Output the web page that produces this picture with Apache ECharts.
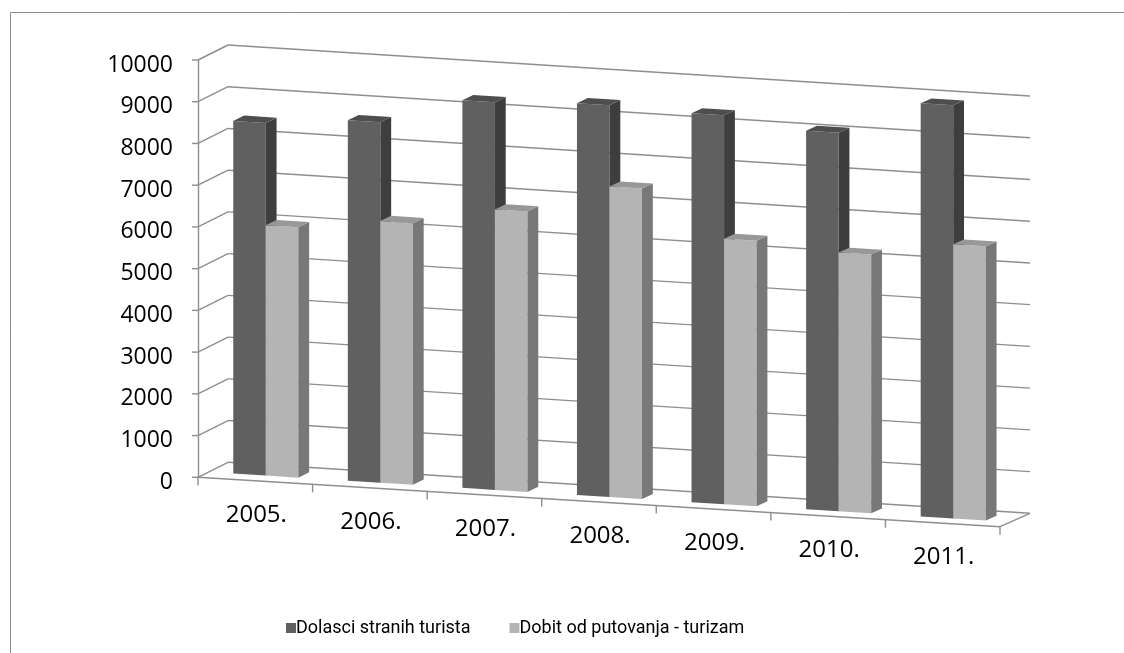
<!DOCTYPE html>
<html>
<head>
<meta charset="utf-8">
<title>Dolasci stranih turista i dobit od turizma</title>
<script src="https://cdn.jsdelivr.net/npm/echarts@6/dist/echarts.min.js"></script>
<style>
  html, body { margin: 0; padding: 0; background: #ffffff; }
  #chart { width: 1124px; height: 653px; }
</style>
</head>
<body>
<div id="chart"></div>
<script>
// ---- data ----
const years = ['2005.', '2006.', '2007.', '2008.', '2009.', '2010.', '2011.'];
const arrivals = [8450, 8640, 9290, 9390, 9320, 9070, 9900];
const income = [6000, 6270, 6720, 7440, 6360, 6200, 6570];
const yTicks = [0, 1000, 2000, 3000, 4000, 5000, 6000, 7000, 8000, 9000, 10000];

const seriesNames = ['Dolasci stranih turista', 'Dobit od putovanja - turizam'];

// ---- styling ----
const FONT = '"Open Sans", "Noto Sans", sans-serif';
const LEGEND_FONT = 'Roboto, "Open Sans", sans-serif';
const GRID_COLOR = '#8e8e8e';
const DARK = { front: '#606060', side: '#3e3e3e', top: '#4e4e4e' };
const LIGHT = { front: '#b4b4b4', side: '#787878', top: '#989898' };

// oblique 3D projection of the flat cartesian grid
const DEPTH_X = 30;          // horizontal shift of the back wall
const DEPTH_Y = 15;          // vertical shift of the back wall
const FRONT_SLOPE = 0.0616;  // downward slant of the floor front edge
const BACK_SLOPE = 0.0636;   // downward slant of the back wall
const BAR_DEPTH_START = 0.35;
const BAR_DEPTH = 0.36;
const BAR_FRACTION = 0.284;  // bar width as a share of the category band

function project(x0, xf, yf, d) {
  const s = FRONT_SLOPE + (BACK_SLOPE - FRONT_SLOPE) * d;
  return [xf + DEPTH_X * d, yf + s * (xf - x0) - DEPTH_Y * d];
}

function frame(api) {
  const band = api.size([1, 0])[0];
  const x0 = api.coord([0, 0])[0] - band / 2;
  return { band: band, x0: x0, xEnd: x0 + band * years.length };
}

function line(p1, p2, width) {
  return {
    type: 'line',
    shape: { x1: p1[0], y1: p1[1], x2: p2[0], y2: p2[1] },
    style: { stroke: GRID_COLOR, lineWidth: width || 1.4 }
  };
}

function poly(points, fill) {
  return { type: 'polygon', shape: { points: points }, style: { fill: fill, stroke: null } };
}

function label(text, x, y, size, align) {
  return {
    type: 'text',
    x: x,
    y: y,
    style: {
      text: text,
      fill: '#000000',
      font: size + 'px ' + FONT,
      align: align,
      verticalAlign: 'middle'
    }
  };
}

// walls, floor and value labels: one entry per value tick
function renderGrid(params, api) {
  const f = frame(api);
  const v = api.value(1);
  const y = api.coord([0, v])[1];
  const P = (x, yy, d) => project(f.x0, x, yy, d);
  const children = [
    line(P(f.x0, y, 0), P(f.x0, y, 1)),
    line(P(f.x0, y, 1), P(f.xEnd, y, 1)),
    line([f.x0 - 6, y], [f.x0, y]),
    label(String(v), f.x0 - 25, y + 5, 23, 'right')
  ];
  if (v === 0) {
    children.push(line(P(f.x0, y, 0), P(f.xEnd, y, 0)));
    children.push(line(P(f.xEnd, y, 0), P(f.xEnd, y, 1)));
  }
  return { type: 'group', children: children };
}

// category ticks along the floor front edge and the year labels
function renderCategories(params, api) {
  const f = frame(api);
  const idx = api.value(0);
  const base = api.coord([idx, 0]);
  const P = (x, yy, d) => project(f.x0, x, yy, d);
  const left = base[0] - f.band / 2;
  const children = [];
  const tickAt = (x) => {
    const p = P(x, base[1], 0);
    children.push(line(p, [p[0], p[1] + 8]));
  };
  tickAt(left);
  if (idx === years.length - 1) tickAt(left + f.band);
  const c = P(base[0], base[1], 0);
  children.push(label(years[idx], c[0] + 1, c[1] + 34, 24, 'center'));
  return { type: 'group', children: children };
}

function barRenderer(slot, colors) {
  return function (params, api) {
    const f = frame(api);
    const idx = api.value(0);
    const v = api.value(1);
    const base = api.coord([idx, 0]);
    const yTop = api.coord([idx, v])[1];
    const bw = f.band * BAR_FRACTION;
    const xl = base[0] - bw + slot * bw;
    const xr = xl + bw;
    const d0 = BAR_DEPTH_START;
    const d1 = d0 + BAR_DEPTH;
    const P = (x, yy, d) => project(f.x0, x, yy, d);
    return {
      type: 'group',
      children: [
        poly([P(xl, base[1], d0), P(xr, base[1], d0), P(xr, yTop, d0), P(xl, yTop, d0)], colors.front),
        poly([P(xr, base[1], d0), P(xr, base[1], d1), P(xr, yTop, d1), P(xr, yTop, d0)], colors.side),
        poly([P(xl, yTop, d0), P(xr, yTop, d0), P(xr, yTop, d1), P(xl, yTop, d1)], colors.top)
      ]
    };
  };
}

const chart = echarts.init(document.getElementById('chart'), null, { renderer: 'canvas' });

chart.setOption({
  backgroundColor: '#ffffff',
  animation: false,
  graphic: [{
    type: 'rect',
    shape: { x: 10.5, y: 12.5, width: 1200, height: 700 },
    style: { fill: null, stroke: '#8e8e8e', lineWidth: 1 },
    silent: true
  }],
  grid: { left: 198, right: 124, top: 60, bottom: 175.7 },
  legend: {
    data: seriesNames,
    left: 281,
    top: 614,
    icon: 'rect',
    itemWidth: 10,
    itemHeight: 10,
    itemGap: 39,
    textStyle: { fontFamily: LEGEND_FONT, fontSize: 18, color: '#000000', padding: [0, 0, 0, -5] }
  },
  xAxis: {
    type: 'category',
    data: years,
    axisLine: { show: false },
    axisTick: { show: false },
    axisLabel: { show: false },
    splitLine: { show: false }
  },
  yAxis: {
    type: 'value',
    min: 0,
    max: 10000,
    interval: 1000,
    axisLine: { show: true, lineStyle: { color: GRID_COLOR, width: 1.4 } },
    axisTick: { show: false },
    axisLabel: { show: false },
    splitLine: { show: false }
  },
  series: [
    {
      type: 'custom',
      name: 'walls',
      silent: true,
      clip: false,
      renderItem: renderGrid,
      encode: { x: 0, y: 1 },
      data: yTicks.map(v => [0, v]),
      z: 1
    },
    {
      type: 'custom',
      name: 'categories',
      silent: true,
      clip: false,
      renderItem: renderCategories,
      encode: { x: 0, y: 1 },
      data: years.map((y, i) => [i, 0]),
      z: 1
    },
    {
      type: 'custom',
      name: seriesNames[0],
      clip: false,
      itemStyle: { color: DARK.front },
      renderItem: barRenderer(0, DARK),
      encode: { x: 0, y: 1 },
      data: arrivals.map((v, i) => [i, v]),
      z: 2
    },
    {
      type: 'custom',
      name: seriesNames[1],
      clip: false,
      itemStyle: { color: LIGHT.front },
      renderItem: barRenderer(1, LIGHT),
      encode: { x: 0, y: 1 },
      data: income.map((v, i) => [i, v]),
      z: 3
    }
  ]
});
</script>
</body>
</html>
